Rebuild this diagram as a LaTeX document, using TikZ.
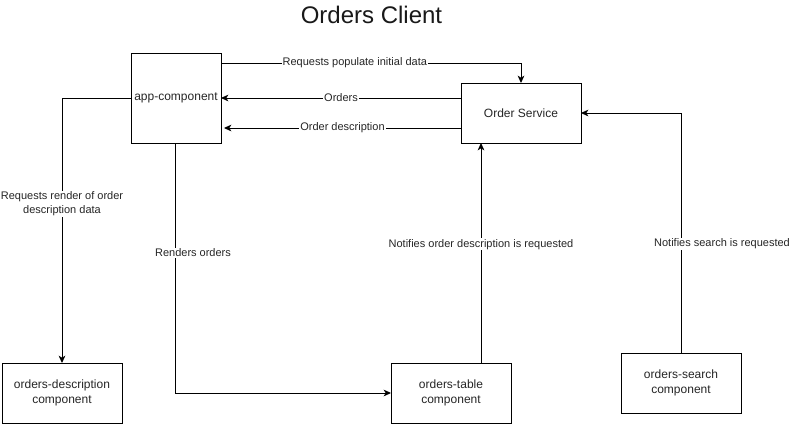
\documentclass[tikz,border=0pt]{standalone}
\usepackage{fontspec}
\setmainfont{Liberation Sans}
\usetikzlibrary{arrows.meta,calc}
\begin{document}
\begin{tikzpicture}[x=0.75pt,y=-0.75pt,
  box/.style={draw=black,line width=0.75pt,fill=white,inner sep=0pt,outer sep=0pt,
    minimum width=90pt,minimum height=45pt,align=center,font=\fontsize{9pt}{11pt}\selectfont,text=black!85},
  arr/.style={line width=0.75pt,-{Stealth[length=5.5pt,width=5pt,inset=1.5pt]}},
  lbl/.style={fill=white,inner sep=0.8pt,align=center,font=\fontsize{8.25pt}{10.5pt}\selectfont,text=black!85}]
\useasboundingbox (0,0) rectangle (792,425);
\fill[white] (0,0) rectangle (792,425);
\node[font=\fontsize{18pt}{20pt}\selectfont,text=black!90] (title) at (371.5,15) {Orders Client};
\node[box,minimum width=67.5pt,minimum height=67.5pt] (app) at (176,98) {app-component};
\node[box] (svc) at (521,113) {Order Service};
\node[box] (desc) at (62,393) {orders-description\\component};
\node[box] (table) at (451,393) {orders-table\\component};
\node[box] (search) at (681,383) {orders-search\\component};
\draw[arr] ($(app.east)+(0,-35)$) -| (svc.north) node[lbl,pos=0.223] {Requests populate initial data};
\draw[arr] ($(svc.west)+(0,-15)$) -- (app.east) node[lbl,midway] {Orders};
\draw[arr] ($(svc.west)+(0,15)$) -- ($(app.east)+(3,30)$) node[lbl,pos=0.5] {Order description};
\draw[arr] (app.west) -| (desc.north) node[lbl,pos=0.70] {Requests render of order\\description data};
\draw[arr] ($(app.south)+(-1,0)$) |- (table.west) node[lbl,pos=0.22,xshift=13.5pt] {Renders orders};
\draw[arr] ($(table.north)+(30,0)$) -- ($(svc.south)+(-40,0)$) node[lbl,pos=0.54] {Notifies order description is requested};
\draw[arr] (search.north) |- (svc.east) node[lbl,pos=0.227,xshift=30.75pt] {Notifies search is requested};
\end{tikzpicture}
\end{document}
